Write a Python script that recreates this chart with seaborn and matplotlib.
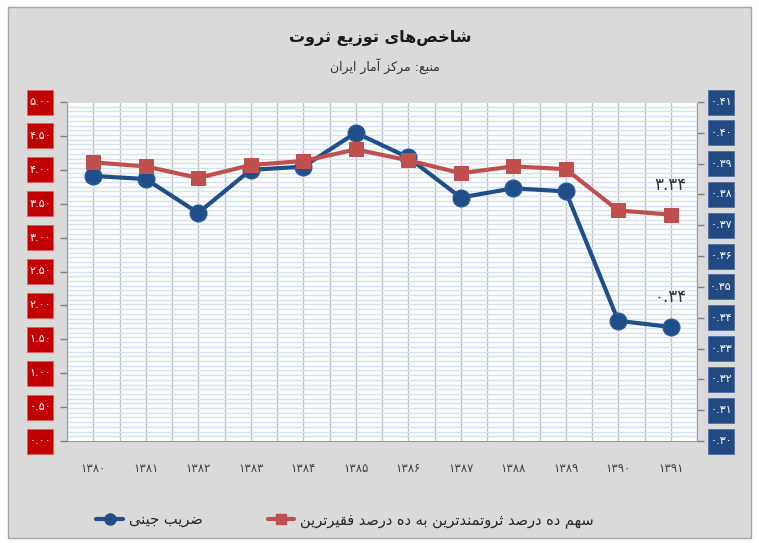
import numpy as np
import pandas as pd
import seaborn as sns
import matplotlib.pyplot as plt
from matplotlib import font_manager as fm
from matplotlib.patches import Rectangle
from matplotlib.lines import Line2D
from fontTools.ttLib import TTFont

# data
years = ['1380', '1381', '1382', '1383', '1384', '1385',
         '1386', '1387', '1388', '1389', '1390', '1391']
gini = [0.386, 0.385, 0.374, 0.388, 0.389, 0.400,
        0.392, 0.379, 0.382, 0.381, 0.339, 0.337]
ratio = [4.11, 4.05, 3.88, 4.07, 4.13, 4.30,
         4.14, 3.95, 4.05, 4.01, 3.40, 3.34]
left_ticks = [0.0, 0.5, 1.0, 1.5, 2.0, 2.5, 3.0, 3.5, 4.0, 4.5, 5.0]
right_ticks = [0.30, 0.31, 0.32, 0.33, 0.34, 0.35, 0.36, 0.37, 0.38, 0.39, 0.40, 0.41]

title = 'شاخص‌های توزیع ثروت'
subtitle = 'منبع: مرکز آمار ایران'
gini_label = 'ضریب جینی'
ratio_label = 'سهم ده درصد ثروتمندترین به ده درصد فقیرترین'

BLUE = '#1f4e89'
RED = '#c0504d'
BOX_RED = '#c00000'
BOX_BLUE = '#234a80'
BG = '#dadada'

sns.set_style('white')
plt.rcParams['font.family'] = ['DejaVu Sans']

# --- minimal arabic/persian shaping (matplotlib has no bidi / joining) ---
# (isolated, final, initial, medial); right-joining letters have no initial/medial
FORMS = {
    'ا': (0xFE8D, 0xFE8E, None, None), 'آ': (0xFE81, 0xFE82, None, None),
    'د': (0xFEA9, 0xFEAA, None, None), 'ذ': (0xFEAB, 0xFEAC, None, None),
    'ر': (0xFEAD, 0xFEAE, None, None), 'ز': (0xFEAF, 0xFEB0, None, None),
    'و': (0xFEED, 0xFEEE, None, None),
    'ب': (0xFE8F, 0xFE90, 0xFE91, 0xFE92), 'ت': (0xFE95, 0xFE96, 0xFE97, 0xFE98),
    'ث': (0xFE99, 0xFE9A, 0xFE9B, 0xFE9C), 'ج': (0xFE9D, 0xFE9E, 0xFE9F, 0xFEA0),
    'ح': (0xFEA1, 0xFEA2, 0xFEA3, 0xFEA4), 'خ': (0xFEA5, 0xFEA6, 0xFEA7, 0xFEA8),
    'س': (0xFEB1, 0xFEB2, 0xFEB3, 0xFEB4), 'ش': (0xFEB5, 0xFEB6, 0xFEB7, 0xFEB8),
    'ص': (0xFEB9, 0xFEBA, 0xFEBB, 0xFEBC), 'ض': (0xFEBD, 0xFEBE, 0xFEBF, 0xFEC0),
    'ع': (0xFEC9, 0xFECA, 0xFECB, 0xFECC), 'ف': (0xFED1, 0xFED2, 0xFED3, 0xFED4),
    'ق': (0xFED5, 0xFED6, 0xFED7, 0xFED8), 'ک': (0xFB8E, 0xFB8F, 0xFB90, 0xFB91),
    'م': (0xFEE1, 0xFEE2, 0xFEE3, 0xFEE4), 'ن': (0xFEE5, 0xFEE6, 0xFEE7, 0xFEE8),
    'ه': (0xFEE9, 0xFEEA, 0xFEEB, 0xFEEC), 'ی': (0xFBFC, 0xFBFD, 0xFBFE, 0xFBFF),
}
FALLBACK = {
    'ک': (0xFED9, 0xFEDA, 0xFEDB, 0xFEDC),
    'ی': (0xFEEF, 0xFEF0, 0xFEF3, 0xFEF4),
}


def get_cmap(weight):
    path = fm.findfont(fm.FontProperties(family='DejaVu Sans', weight=weight))
    return TTFont(path).getBestCmap()


cmap_reg = get_cmap('normal')
cmap_bold = get_cmap('bold')


def shape(text, cmap):
    chars = [c for c in text]
    out = []
    for i, c in enumerate(chars):
        if c == '\u200c':
            continue
        if c not in FORMS:
            out.append(c)
            continue
        prev = chars[i - 1] if i > 0 else None
        nxt = chars[i + 1] if i + 1 < len(chars) else None
        jp = prev in FORMS and FORMS[prev][2] is not None
        jn = FORMS[c][2] is not None and nxt in FORMS
        idx = 3 if (jp and jn) else 1 if jp else 2 if jn else 0
        code = FORMS[c][idx]
        if code not in cmap and c in FALLBACK:
            code = FALLBACK[c][idx]
        out.append(chr(code))
    return ''.join(reversed(out))


if all(0x06F0 + d in cmap_reg for d in range(10)):
    DIG = ''.join(chr(0x06F0 + d) for d in range(10))
else:
    DIG = ''.join(chr(0x0660 + d) for d in range(10))
to_fa = str.maketrans('0123456789', DIG)


def fa(s):
    return str(s).translate(to_fa)


df = pd.DataFrame({'idx': np.arange(len(years)), 'year': years,
                   'gini': gini, 'ratio': ratio})

W, H = 759, 543
fig = plt.figure(figsize=(W / 100, H / 100), dpi=100)
fig.patch.set_facecolor('white')
fig.add_artist(Rectangle((8 / W, 1 - 538 / H), 743 / W, 531 / H, transform=fig.transFigure,
                         facecolor=BG, edgecolor='#a6a6a6', linewidth=1, zorder=-10))

ax = fig.add_axes([67 / W, 1 - 441 / H, 630 / W, 339 / H])
ax2 = ax.twinx()
ax.yaxis.tick_right()
ax2.yaxis.tick_left()
ax.set_facecolor('white')

# blue on the right scale (bottom axes), red on the left scale (top axes)
sns.lineplot(data=df, x='idx', y='gini', ax=ax, color=BLUE, linewidth=3,
             marker='o', markersize=12, markeredgecolor='#2a5a9a', markeredgewidth=1,
             legend=False)
sns.lineplot(data=df, x='idx', y='ratio', ax=ax2, color=RED, linewidth=3,
             marker='s', markersize=10, markeredgecolor=RED, legend=False)

ax.set_xlim(-0.5, len(years) - 0.5)
ax.set_ylim(right_ticks[0], right_ticks[-1])
ax2.set_ylim(left_ticks[0], left_ticks[-1])

ax.set_xticks(df['idx'])
ax.set_xticklabels([fa(y) for y in years], fontsize=8.5, color='#404040')
ax.set_xticks(np.arange(-0.5, len(years), 1.0), minor=True)
ax.tick_params(axis='x', which='major', length=0, pad=15)
ax.tick_params(axis='x', which='minor', length=5, color='#808080', width=1)

ax.set_yticks(right_ticks)
ax.set_yticklabels([])
ax.set_yticks(np.linspace(right_ticks[0], right_ticks[-1], 73), minor=True)
ax.tick_params(axis='y', which='major', length=5, color='#808080', width=1, right=True, left=False)
ax.tick_params(axis='y', which='minor', length=0)
ax2.set_yticks(left_ticks)
ax2.set_yticklabels([])
ax2.tick_params(axis='y', length=5, color='#808080', width=1, left=True, right=False)

ax.grid(axis='y', which='minor', color='#d4e1f1', linewidth=1.0)
ax.grid(axis='x', which='both', color='#c0c0c0', linewidth=1)
for a in (ax, ax2):
    a.set_xlabel('')
    a.set_ylabel('')
for s in ax.spines.values():
    s.set_color('#9a9a9a')
ax.spines['top'].set_color('#dcdcdc')
for s in ax2.spines.values():
    s.set_visible(False)

# boxed tick labels
for v in left_ticks:
    yd = ax2.transData.transform((0, v))[1]
    fig.add_artist(Rectangle((27 / W, (yd - 12.5) / H), 26 / W, 25 / H, transform=fig.transFigure,
                             facecolor=BOX_RED, edgecolor='#e06060', linewidth=0.6))
    fig.text(40 / W, yd / H, fa(f'{v:.2f}'), color='white', fontsize=8,
             ha='center', va='center')
for v in right_ticks:
    yd = ax.transData.transform((0, v))[1]
    fig.add_artist(Rectangle((708 / W, (yd - 12.5) / H), 26 / W, 25 / H, transform=fig.transFigure,
                             facecolor=BOX_BLUE, edgecolor='#4a6fa5', linewidth=0.6))
    fig.text(721 / W, yd / H, fa(f'{v:.2f}'), color='white', fontsize=8,
             ha='center', va='center')

# end labels
last = len(years) - 1
ax2.annotate(fa(f'{ratio[-1]:.2f}'), xy=(last, ratio[-1]), xytext=(0, 30),
             textcoords='offset pixels', ha='center', va='center', fontsize=12, color='#333333')
ax.annotate(fa(f'{gini[-1]:.2f}'), xy=(last, gini[-1]), xytext=(0, 30),
            textcoords='offset pixels', ha='center', va='center', fontsize=12, color='#333333')

# titles
fig.text(380 / W, 1 - 38 / H, shape(title, cmap_bold), ha='center', va='center',
         fontsize=11.5, fontweight='bold', color='#1a1a1a')
fig.text(385 / W, 1 - 66 / H, shape(subtitle, cmap_reg), ha='center', va='center',
         fontsize=9, color='#333333')

handles = [Line2D([], [], color=BLUE, linewidth=3, marker='o', markersize=8),
           Line2D([], [], color=RED, linewidth=3, marker='s', markersize=7)]
fig.legend(handles, [shape(gini_label, cmap_reg), shape(ratio_label, cmap_reg)],
           loc='center', bbox_to_anchor=(345 / W, 1 - 520 / H), ncol=2, frameon=False,
           fontsize=10.5, handlelength=1.8, handletextpad=0.4, columnspacing=4.5)

fig.savefig('out.png', dpi=100)
